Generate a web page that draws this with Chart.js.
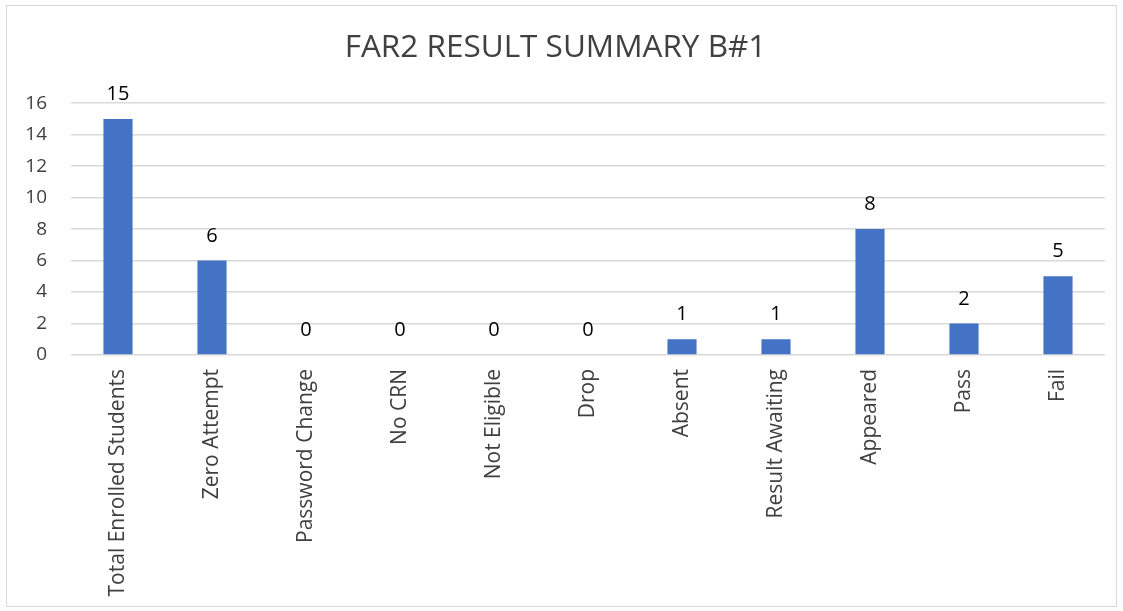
<!DOCTYPE html>
<html>
<head>
<meta charset="utf-8">
<script src="https://cdn.jsdelivr.net/npm/chart.js@4/dist/chart.umd.min.js"></script>
<style>
  html, body { margin:0; padding:0; background:#fff; }
  #wrap { position:absolute; left:0; top:0; width:1123px; height:611px; }
  #frame { position:absolute; left:6px; top:5px; width:1111px; height:602px; border:1px solid #d9d9d9; box-sizing:border-box; pointer-events:none; }
</style>
</head>
<body>
<div id="wrap"><canvas id="c" width="1123" height="611"></canvas></div>
<div id="frame"></div>
<script>
// chart data
const categories = ["Total Enrolled Students","Zero Attempt","Password Change","No CRN","Not Eligible","Drop","Absent","Result Awaiting","Appeared","Pass","Fail"];
const counts     = [15, 6, 0, 0, 0, 0, 1, 1, 8, 2, 5];
const yTicks     = [0, 2, 4, 6, 8, 10, 12, 14, 16];

const FONT = "'Open Sans', 'DejaVu Sans', sans-serif";

// value labels above each bar
const valueLabels = {
  id: 'valueLabels',
  afterDatasetsDraw(chart) {
    const ctx = chart.ctx;
    const meta = chart.getDatasetMeta(0);
    ctx.save();
    ctx.font = `20px ${FONT}`;
    ctx.fillStyle = '#000000';
    ctx.textAlign = 'center';
    ctx.textBaseline = 'alphabetic';
    meta.data.forEach((bar, i) => {
      ctx.fillText(String(counts[i]), bar.x, bar.y - 19);
    });
    ctx.restore();
  }
};

new Chart(document.getElementById('c'), {
  type: 'bar',
  data: {
    labels: categories,
    datasets: [{
      data: counts,
      backgroundColor: '#4472C4',
      borderWidth: 0,
      categoryPercentage: 1,
      barPercentage: 0.31
    }]
  },
  options: {
    responsive: false,
    animation: false,
    layout: { padding: { left: 6, right: 18, top: 0, bottom: 11 } },
    plugins: {
      legend: { display: false },
      tooltip: { enabled: false },
      title: {
        display: true,
        text: 'FAR2 RESULT SUMMARY B#1',
        color: '#404040',
        font: { family: FONT, size: 31.5, weight: 'normal' },
        padding: { top: 29, bottom: 36.4 }
      }
    },
    scales: {
      x: {
        grid: { display: false, drawTicks: false },
        border: { display: false },
        ticks: {
          color: '#404040',
          font: { family: FONT, size: 21 },
          minRotation: 90, maxRotation: 90,
          autoSkip: false,
          padding: 14
        },
        afterFit: s => { s.height = 245; }
      },
      y: {
        min: 0, max: 16,
        afterBuildTicks: s => { s.ticks = yTicks.map(v => ({ value: v })); },
        grid: { color: '#d9d9d9', lineWidth: 1.5, drawTicks: false },
        border: { display: false },
        ticks: {
          color: '#404040',
          font: { family: FONT, size: 19 },
          padding: 24
        },
        afterFit: s => { s.width = 65; }
      }
    }
  },
  plugins: [valueLabels]
});
</script>
</body>
</html>
